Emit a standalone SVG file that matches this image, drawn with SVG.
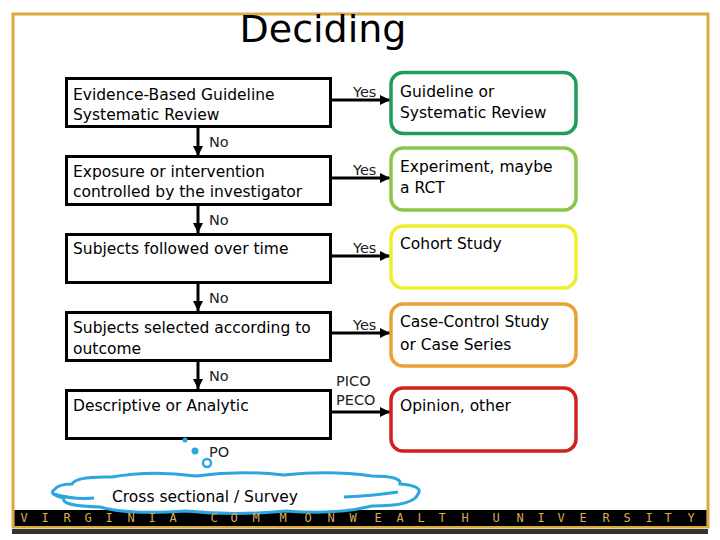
<svg xmlns="http://www.w3.org/2000/svg" width="720" height="540" viewBox="0 0 720 540">
<defs>
<marker id="ah" markerUnits="userSpaceOnUse" markerWidth="12" markerHeight="12" refX="10" refY="5" orient="auto">
<path d="M0,0 L10,5 L0,10 Z" fill="#000"/>
</marker>
<style>
.t{font-family:"DejaVu Sans","Verdana",sans-serif;font-size:15.5px;fill:#000}
.s{font-family:"DejaVu Sans","Verdana",sans-serif;font-size:14.5px;fill:#222}
.q{fill:#fff;stroke:#000;stroke-width:3}
.r{fill:#fff;stroke-width:3.5}
.c{fill:none;stroke:#000;stroke-width:3;marker-end:url(#ah)}
.v{font-family:"DejaVu Sans Mono","Liberation Mono",monospace;font-size:12px;fill:#D9AC55;text-anchor:middle}
</style>
</defs>
<rect width="720" height="540" fill="#fff"/>
<rect x="13" y="14" width="695" height="513" fill="none" stroke="#D9A93B" stroke-width="3"/>
<rect x="12" y="529" width="696" height="5" fill="#333"/>
<rect x="14.5" y="510" width="692" height="16" fill="#000"/>
<text x="323" y="42" font-family="DejaVu Sans, Verdana, sans-serif" font-size="38" text-anchor="middle" fill="#000">Deciding</text>

<g id="connectors">
<line class="c" x1="331" y1="100" x2="390" y2="100"/>
<line class="c" x1="331" y1="178" x2="390" y2="178"/>
<line class="c" x1="331" y1="256" x2="390" y2="256"/>
<line class="c" x1="331" y1="333" x2="390" y2="333"/>
<line class="c" x1="331" y1="412" x2="390" y2="412"/>
<line class="c" x1="198" y1="127" x2="198" y2="156"/>
<line class="c" x1="198" y1="205" x2="198" y2="233"/>
<line class="c" x1="198" y1="283" x2="198" y2="311"/>
<line class="c" x1="198" y1="361" x2="198" y2="389"/>
<text class="s" x="353" y="97">Yes</text>
<text class="s" x="353" y="175">Yes</text>
<text class="s" x="353" y="253">Yes</text>
<text class="s" x="353" y="330">Yes</text>
<text class="s" x="336" y="386">PICO</text>
<text class="s" x="336" y="405">PECO</text>
<text class="s" x="209" y="147">No</text>
<text class="s" x="209" y="225">No</text>
<text class="s" x="209" y="303">No</text>
<text class="s" x="209" y="381">No</text>
<text class="s" x="209" y="457">PO</text>
</g>

<g id="q1"><rect class="q" x="66.5" y="78.5" width="264" height="48"/>
<text class="t" x="73" y="100">Evidence-Based Guideline</text><text class="t" x="73" y="120">Systematic Review</text></g>
<g id="q2"><rect class="q" x="66.5" y="156.5" width="264" height="48"/>
<text class="t" x="73" y="177">Exposure or intervention</text><text class="t" x="73" y="197">controlled by the investigator</text></g>
<g id="q3"><rect class="q" x="66.5" y="234.5" width="264" height="48"/>
<text class="t" x="73" y="254">Subjects followed over time</text></g>
<g id="q4"><rect class="q" x="66.5" y="312.5" width="264" height="48"/>
<text class="t" x="73" y="333">Subjects selected according to</text><text class="t" x="73" y="354">outcome</text></g>
<g id="q5"><rect class="q" x="66.5" y="390.5" width="264" height="48"/>
<text class="t" x="73" y="411">Descriptive or Analytic</text></g>

<g id="a1"><rect class="r" stroke="#1E9C5C" x="391" y="72.5" width="185" height="61" rx="12"/>
<text class="t" x="400" y="97">Guideline or</text><text class="t" x="400" y="118">Systematic Review</text></g>
<g id="a2"><rect class="r" stroke="#8CC54A" x="391" y="148" width="185" height="62" rx="12"/>
<text class="t" x="400" y="172">Experiment, maybe</text><text class="t" x="400" y="193">a RCT</text></g>
<g id="a3"><rect class="r" stroke="#EEEE30" x="391" y="226" width="185" height="62" rx="12"/>
<text class="t" x="400" y="249">Cohort Study</text></g>
<g id="a4"><rect class="r" stroke="#E8A234" x="391" y="304" width="185" height="62" rx="12"/>
<text class="t" x="400" y="327">Case-Control Study</text><text class="t" x="400" y="350">or Case Series</text></g>
<g id="a5"><rect class="r" stroke="#D2201E" x="391" y="388" width="185" height="63" rx="12"/>
<text class="t" x="400" y="411">Opinion, other</text></g>

<g id="cloud">
<circle cx="185" cy="440" r="2.5" fill="#2BA6DE"/>
<circle cx="195" cy="451" r="3.5" fill="#2BA6DE"/>
<circle cx="207" cy="463" r="4" fill="#fff" stroke="#2BA6DE" stroke-width="2.5"/>
<path d="M72,484 Q76,476 112,477 Q150,470 196,476 Q240,470 284,475 Q330,470 372,476 Q402,476 400,484 Q424,486 418,494 Q414,506 372,506 Q336,515 286,511 Q236,516 186,511 Q128,515 100,507 Q60,506 64,498 Q48,494 54,490 Q58,484 72,484 Z" fill="#fff" stroke="#2BA6DE" stroke-width="3"/>
<path d="M54,494 Q74,500 94,498 M344,497 Q372,496 398,492" fill="none" stroke="#2BA6DE" stroke-width="3"/>
<text class="t" x="112" y="502">Cross sectional / Survey</text>
</g>

<g id="footer">
<text class="v" y="522"><tspan x="24">V</tspan><tspan x="45">I</tspan><tspan x="67">R</tspan><tspan x="88">G</tspan><tspan x="109">I</tspan><tspan x="131">N</tspan><tspan x="152">I</tspan><tspan x="173">A</tspan><tspan x="214">C</tspan><tspan x="234">O</tspan><tspan x="256">M</tspan><tspan x="283">M</tspan><tspan x="308">O</tspan><tspan x="331">N</tspan><tspan x="353">W</tspan><tspan x="378">E</tspan><tspan x="400">A</tspan><tspan x="421">L</tspan><tspan x="442">T</tspan><tspan x="465">H</tspan><tspan x="496">U</tspan><tspan x="520">N</tspan><tspan x="541">I</tspan><tspan x="561">V</tspan><tspan x="583">E</tspan><tspan x="606">R</tspan><tspan x="627">S</tspan><tspan x="649">I</tspan><tspan x="668">T</tspan><tspan x="691">Y</tspan></text>
</g>
</svg>
